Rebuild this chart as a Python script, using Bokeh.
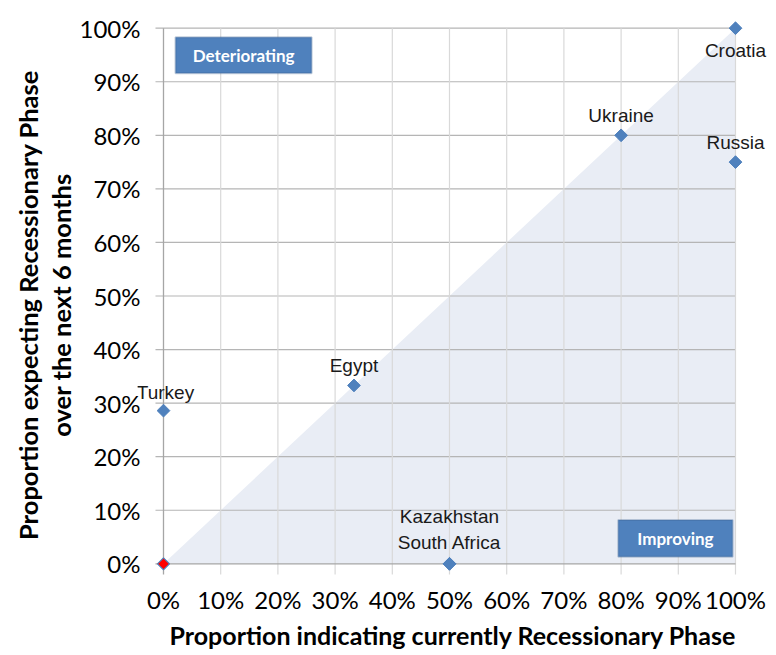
import numpy as np
from bokeh.plotting import figure
from bokeh.models import (Range1d, ColumnDataSource, LinearAxis, FixedTicker,
                          NumeralTickFormatter, BoxAnnotation, Label)
from bokeh.embed import file_html
from bokeh.resources import INLINE

# ---- data ----
countries = ["Croatia", "Ukraine", "Russia", "Egypt", "Turkey", "Kazakhstan", "South Africa"]
current_recession = [1.0, 0.8, 1.0, 0.333, 0.0, 0.5, 0.5]
expected_recession = [1.0, 0.8, 0.75, 0.333, 0.286, 0.0, 0.0]
highlight_x = [0.0]
highlight_y = [0.0]
tick_values = [0.0, 0.1, 0.2, 0.3, 0.4, 0.5, 0.6, 0.7, 0.8, 0.9, 1.0]
improving_region_x = [0.0, 1.0, 1.0]
improving_region_y = [0.0, 0.0, 1.0]
box_labels = ["Deteriorating", "Improving"]
x_title = "Proportion indicating currently Recessionary Phase"
y_title = "Proportion expecting Recessionary Phase\nover the next 6 months"

# ---- layout (label offsets in px; positive = above) ----
label_dy = {"Croatia": -22, "Kazakhstan": 47, "South Africa": 21, "Turkey": 18}
label_dx = {"Turkey": 2}
default_dy = 20
box_extents = [(0.021, 0.259, 0.916, 0.983), (0.795, 0.995, 0.013, 0.082)]

BLUE = "#4F81BD"

# frame is larger than the gridded area so that point labels are not clipped
x_start, x_end = -26 / 572, -26 / 572 + 631 / 572
y_end = 1.02
y_start = y_end - 575 / 535.6
tick_ext_x = -0.014   # how far horizontal grid lines poke out left of 0%
tick_ext_y = -0.02    # how far vertical grid lines poke out below 0%

p = figure(frame_width=631, frame_height=575,
           x_range=Range1d(x_start, x_end), y_range=Range1d(y_start, y_end),
           x_axis_type=None, y_axis_type=None,
           output_backend="svg", toolbar_location=None,
           min_border_left=137, min_border_top=17, min_border_right=0, min_border_bottom=55)
p.outline_line_color = None
p.background_fill_color = "white"

# shaded "improving" triangle
p.patch(improving_region_x, improving_region_y, fill_color="#E9EDF5", line_color=None)

# grid lines (drawn over the shading)
inner = [t for t in tick_values if t != 0.0]
p.segment(x0=[tick_ext_x] * len(inner), y0=inner, x1=[1.0] * len(inner), y1=inner,
          line_color="#B5B5B5", line_width=1.2)
p.segment(x0=inner, y0=[tick_ext_y] * len(inner), x1=inner, y1=[1.0] * len(inner),
          line_color="#D9D9D9", line_width=1.2)
# zero lines (axes)
p.segment(x0=[tick_ext_x], y0=[0.0], x1=[1.0], y1=[0.0], line_color="#A6A6A6", line_width=1.3)
p.segment(x0=[0.0], y0=[tick_ext_y], x1=[0.0], y1=[1.0], line_color="#A6A6A6", line_width=1.3)

# axes
xaxis = LinearAxis(ticker=FixedTicker(ticks=tick_values),
                   formatter=NumeralTickFormatter(format="0%"))
yaxis = LinearAxis(ticker=FixedTicker(ticks=tick_values),
                   formatter=NumeralTickFormatter(format="0%"))
for ax in (xaxis, yaxis):
    ax.axis_line_color = None
    ax.major_tick_line_color = None
    ax.minor_tick_line_color = None
    ax.major_tick_out = 0
    ax.major_tick_in = 0
    ax.major_label_text_font = "Lato"
    ax.major_label_text_font_size = "24px"
    ax.major_label_text_color = "#000000"
    ax.axis_label_text_font = "Lato"
    ax.axis_label_text_font_style = "bold"
    ax.axis_label_text_color = "#000000"
xaxis.axis_label_text_font_size = "25px"
yaxis.axis_label_text_font_size = "25.5px"
yaxis.axis_label_text_line_height = 1.1
xaxis.major_label_standoff = -8
xaxis.axis_label = x_title
xaxis.axis_label_standoff = 3
yaxis.major_label_standoff = -3
yaxis.axis_label = y_title
yaxis.axis_label_standoff = 1
p.add_layout(xaxis, "below")
p.add_layout(yaxis, "left")

# data points
src = ColumnDataSource(dict(x=current_recession, y=expected_recession, name=countries))
p.scatter("x", "y", source=src, marker="square", angle=np.pi / 4, size=9,
          fill_color=BLUE, line_color=BLUE)
p.scatter(highlight_x, highlight_y, marker="square", angle=np.pi / 4, size=8.5,
          fill_color="#FF0000", line_color=BLUE, line_width=1.2)
for name, xv, yv in zip(countries, current_recession, expected_recession):
    p.add_layout(Label(x=xv, y=yv, text=name,
                       x_offset=label_dx.get(name, 0), y_offset=label_dy.get(name, default_dy),
                       text_align="center", text_baseline="middle",
                       text_font="Liberation Sans", text_font_size="19px",
                       text_color="#1A1A1A"))

# quadrant boxes
for lab, (l, r, b, t) in zip(box_labels, box_extents):
    p.add_layout(BoxAnnotation(left=l, right=r, bottom=b, top=t, fill_color=BLUE,
                               fill_alpha=1.0, line_color="#385D8A", line_width=2))
    p.add_layout(Label(x=(l + r) / 2, y=(b + t) / 2, text=lab, text_align="center",
                       text_baseline="middle", text_color="white", text_font="Lato",
                       text_font_style="bold", text_font_size="17px"))

open("out.html", "w").write(file_html(p, INLINE))
